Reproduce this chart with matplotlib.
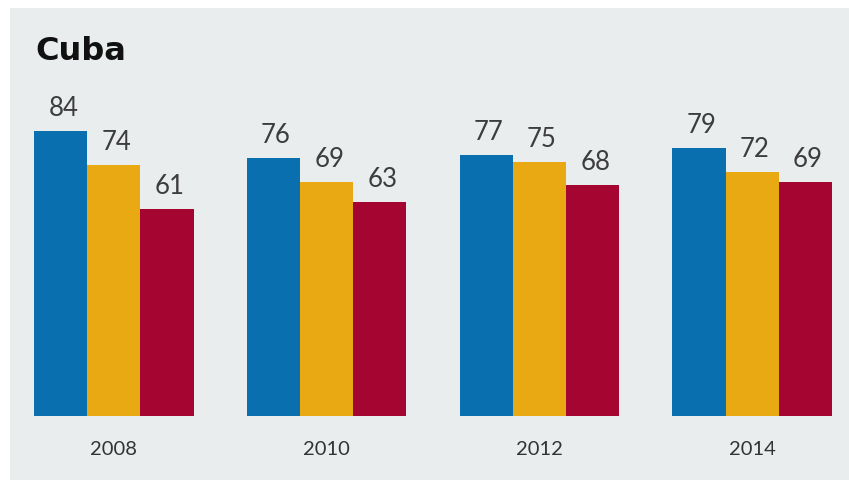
import matplotlib.pyplot as plt
import matplotlib.patches as patches
import numpy as np

# 数据
years = ["2008", "2010", "2012", "2014"]
serie_azul = [84, 76, 77, 79]
serie_amarilla = [74, 69, 75, 72]
serie_roja = [61, 63, 68, 69]
colores = ["#0a6fae", "#e8a913", "#a50531"]

W, H = 849, 484
fig = plt.figure(figsize=(W / 100, H / 100), dpi=100)
fig.patch.set_facecolor("white")

# 灰色背景面板（放在坐标轴下面）
fondo = patches.Rectangle((10 / W, 1 - 480 / H), 1 - 10 / W, (480 - 8) / H,
                          transform=fig.transFigure, facecolor="#e9eded",
                          edgecolor="none", zorder=-1)
fig.patches.append(fondo)

# 坐标轴：x 从 -1.5 到 13.5，y 从 0 到 100
ax = fig.add_axes([34 / W, 68 / H, 798 / W, 339 / H])
ax.set_zorder(1)
ax.set_xlim(-1.5, 13.5)
ax.set_ylim(0, 100)
ax.patch.set_alpha(0)
for s in ax.spines.values():
    s.set_visible(False)
ax.set_xticks([])
ax.set_yticks([])

x = np.arange(len(years)) * 4
for k, serie in enumerate([serie_azul, serie_amarilla, serie_roja]):
    xs = x + (k - 1)
    ax.bar(xs, serie, width=1.0, color=colores[k], linewidth=0)
    for xi, v in zip(xs, serie):
        ax.text(xi + 0.05, v + 3.0, str(v), ha="center", va="bottom",
                fontsize=18.5, color="#3d3d3d", family="Lato")

for xi, yr in zip(x, years):
    ax.text(xi, -7.5, yr, ha="center", va="top", fontsize=14.5,
            color="#333333", family="Lato")

fig.text(35 / W, 1 - 60 / H, "Cuba", fontsize=23, fontweight="heavy",
         color="#111111", family="DejaVu Sans", ha="left", va="baseline",
         zorder=2)

fig.savefig("out.png", dpi=100)
